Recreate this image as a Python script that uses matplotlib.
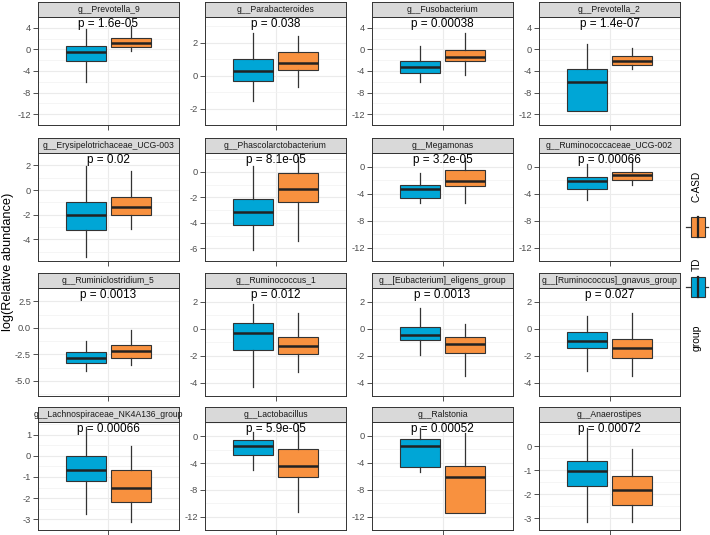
import matplotlib
matplotlib.use("Agg")
import matplotlib.pyplot as plt
from matplotlib.patches import Rectangle
from matplotlib.lines import Line2D

plt.rcParams['font.family'] = ['Liberation Sans', 'DejaVu Sans']

genera = ["g__Prevotella_9", "g__Parabacteroides", "g__Fusobacterium", "g__Prevotella_2",
          "g__Erysipelotrichaceae_UCG-003", "g__Phascolarctobacterium", "g__Megamonas",
          "g__Ruminococcaceae_UCG-002", "g__Ruminiclostridium_5", "g__Ruminococcus_1",
          "g__[Eubacterium]_eligens_group", "g__[Ruminococcus]_gnavus_group",
          "g__Lachnospiraceae_NK4A136_group", "g__Lactobacillus", "g__Ralstonia", "g__Anaerostipes"]
pvals = ["1.6e-05", "0.038", "0.00038", "1.4e-07", "0.02", "8.1e-05", "3.2e-05", "0.00066",
         "0.0013", "0.012", "0.0013", "0.027", "0.00066", "5.9e-05", "0.00052", "0.00072"]

groups = ["TD", "C-ASD"]
colors = ["#00A6D6", "#F8913F"]

# box stats: lower whisker, Q1, median, Q3, upper whisker
td_low = [-6.1, -1.57, -6.0, -11.4, -5.45, -6.13, -5.47, -5.0, -4.1, -4.35, -1.98, -3.12, -2.73, -5.02, -5.41, -3.16]
td_q1 = [-2.2, -0.34, -4.3, -11.4, -3.23, -4.17, -4.68, -3.3, -3.3, -1.59, -0.86, -1.46, -1.2, -2.84, -4.67, -1.68]
td_med = [-0.4, 0.3, -3.3, -6.1, -2.0, -3.12, -3.28, -2.1, -2.83, -0.37, -0.5, -0.9, -0.66, -1.4, -1.52, -1.04]
td_q3 = [0.6, 0.99, -2.2, -3.7, -0.93, -2.13, -2.67, -1.55, -2.3, 0.39, 0.13, -0.29, -0.02, -0.52, -0.43, -0.63]
td_high = [3.8, 2.57, 0.6, 1.0, 1.95, 0.49, -0.97, 0.41, -1.25, 1.85, 1.52, 0.92, 1.35, 0.65, 1.23, 0.74]

asd_low = [-0.3, -0.71, -4.7, -3.7, -3.13, -5.4, -5.47, -2.7, -3.5, -3.2, -3.5, -3.5, -3.14, -11.35, -11.45, -3.16]
asd_q1 = [0.4, 0.34, -2.2, -2.8, -2.0, -2.35, -2.85, -2.05, -2.89, -1.89, -1.81, -2.16, -2.18, -6.11, -11.45, -2.46]
asd_med = [1.1, 0.76, -1.4, -2.2, -1.34, -1.37, -2.1, -1.2, -2.23, -1.3, -1.15, -1.48, -1.5, -4.37, -6.07, -1.84]
asd_q3 = [2.2, 1.43, -0.15, -1.2, -0.54, -0.05, -0.57, -0.8, -1.64, -0.65, -0.6, -0.78, -0.66, -1.83, -4.5, -1.24]
asd_high = [4.3, 2.4, 3.0, 0.2, 1.56, 1.2, 1.3, 0.95, -0.18, 1.15, 0.33, 1.17, 0.48, 1.74, 0.35, -0.11]

# free y scales per panel
ylims = [(-12.15, 4.75), (-2.67, 3.56), (-12.1, 4.46), (-12.1, 4.5),
         (-5.75, 2.48), (-6.37, 1.49), (-12.05, 2.0), (-12.0, 1.4),
         (-6.43, 3.12), (-4.78, 2.2), (-5.0, 2.07), (-4.06, 2.21),
         (-3.33, 1.59), (-12.0, 2.13), (-12.1, 2.06), (-3.36, 1.0)]
ytick_sets = [[-12, -8, -4, 0, 4], [-2, 0, 2], [-12, -8, -4, 0, 4], [-12, -8, -4, 0, 4],
              [-4, -2, 0, 2], [-6, -4, -2, 0], [-12, -8, -4, 0], [-12, -8, -4, 0],
              [-5.0, -2.5, 0.0, 2.5], [-4, -2, 0, 2], [-4, -2, 0, 2], [-4, -2, 0, 2],
              [-3, -2, -1, 0, 1], [-12, -8, -4, 0], [-12, -8, -4, 0], [-3, -2, -1, 0]]

W, H = 710, 535
fig = plt.figure(figsize=(W / 100, H / 100), dpi=100)

col_left = [38, 205, 372, 539]
row_top = [17, 153, 288, 422]
pw, ph, sh = 141, 108, 15
dark = "#333333"


def rect(x, y, w, h):
    return [x / W, 1 - (y + h) / H, w / W, h / H]


for i, name in enumerate(genera):
    r, c = divmod(i, 4)
    x0, y0 = col_left[c], row_top[r]
    ax = fig.add_axes(rect(x0, y0, pw, ph))
    ax.set_xlim(0.4, 1.6)
    ax.set_ylim(*ylims[i])
    ticks = ytick_sets[i]
    ax.set_yticks(ticks)
    if i == 8:
        ax.set_yticklabels(["%.1f" % t for t in ticks])
    else:
        ax.set_yticklabels(["%d" % t for t in ticks])
    step = ticks[1] - ticks[0]
    minors = [t - step / 2 for t in ticks] + [ticks[-1] + step / 2]
    ax.set_yticks(minors, minor=True)
    ax.set_xticks([1])
    ax.set_xticklabels([""])
    ax.tick_params(axis="both", which="major", length=3.5, width=0.6, color=dark,
                   labelsize=6.7, labelcolor="#4D4D4D", pad=1.5)
    ax.tick_params(axis="y", which="minor", length=0)
    ax.grid(True, which="major", color="#EBEBEB", lw=0.8)
    ax.grid(True, which="minor", axis="y", color="#F2F2F2", lw=0.5)
    ax.set_axisbelow(True)
    for s in ax.spines.values():
        s.set_color(dark)
        s.set_linewidth(0.7)

    stats = [
        dict(whislo=td_low[i], q1=td_q1[i], med=td_med[i], q3=td_q3[i], whishi=td_high[i], fliers=[]),
        dict(whislo=asd_low[i], q1=asd_q1[i], med=asd_med[i], q3=asd_q3[i], whishi=asd_high[i], fliers=[]),
    ]
    bp = ax.bxp(stats, positions=[0.81, 1.19], widths=0.345, patch_artist=True,
                showfliers=False, showcaps=False, manage_ticks=False,
                boxprops=dict(edgecolor=dark, linewidth=0.8),
                whiskerprops=dict(color=dark, linewidth=0.9),
                medianprops=dict(color="#222222", linewidth=1.8, solid_capstyle="butt"))
    for patch, col in zip(bp["boxes"], colors):
        patch.set_facecolor(col)

    ax.text(0.5, 0.995, "p = " + pvals[i], transform=ax.transAxes, ha="center", va="top",
            fontsize=8.5, color="black")

    sax = fig.add_axes(rect(x0, y0 - sh, pw, sh))
    sax.set_facecolor("#D9D9D9")
    sax.set_xticks([])
    sax.set_yticks([])
    for s in sax.spines.values():
        s.set_color(dark)
        s.set_linewidth(0.7)
    sax.text(0.5, 0.5, name, transform=sax.transAxes, ha="center", va="center",
             fontsize=6.2, color="#1A1A1A")

fig.text(8 / W, 1 - 262 / H, "log(Relative abundance)", rotation=90, ha="center", va="center",
         fontsize=9.2, color="black")

# legend, drawn rotated like the reference
lax = fig.add_axes([0, 0, 1, 1])
lax.set_xlim(0, W)
lax.set_ylim(H, 0)
lax.axis("off")
keys = [(287, 264, colors[0], "TD"), (227, 186, colors[1], "C-ASD")]
for yc, ty, col, lab in keys:
    lax.add_line(Line2D([686, 708], [yc, yc], color=dark, lw=0.9, zorder=1))
    lax.add_patch(Rectangle((690.5, yc - 10), 14, 20, facecolor=col, edgecolor=dark, lw=0.8, zorder=2))
    lax.add_line(Line2D([697.5, 697.5], [yc - 10, yc + 10], color="#222222", lw=1.6, zorder=3))
    lax.text(697, ty, lab, rotation=90, ha="center", va="center", fontsize=7.2, color="black")
lax.text(697, 338, "group", rotation=90, ha="center", va="center", fontsize=7.5, color="black")

fig.savefig("out.png", dpi=100)
